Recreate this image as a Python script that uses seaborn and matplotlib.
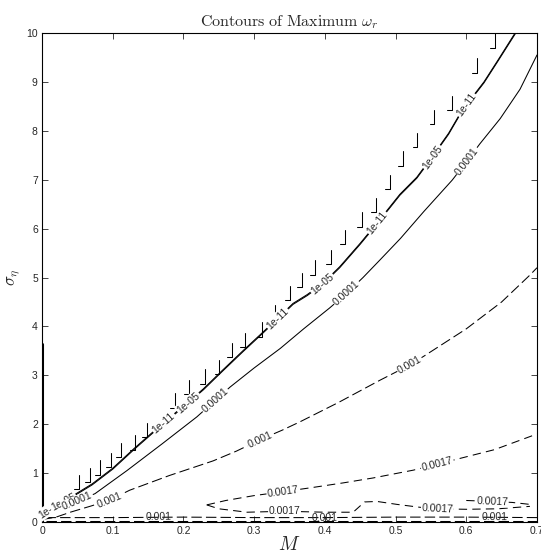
import numpy as np
import pandas as pd
import matplotlib
matplotlib.use("Agg")
import matplotlib.pyplot as plt
import seaborn as sns

# ---------------- data ----------------
# 1e-11 contour (smooth branch)
m_1e11 = [0.0, 0.02, 0.045, 0.071, 0.1, 0.13, 0.163, 0.19, 0.228, 0.255, 0.284, 0.31, 0.332,
          0.355, 0.375, 0.397, 0.421, 0.45, 0.474, 0.506, 0.53, 0.552, 0.575, 0.594, 0.625, 0.645, 0.669]
s_1e11 = [0.15, 0.35, 0.55, 0.78, 1.1, 1.5, 1.92, 2.25, 2.72, 3.1, 3.5, 3.85, 4.15,
          4.47, 4.65, 4.88, 5.22, 5.7, 6.12, 6.7, 7.05, 7.48, 7.95, 8.42, 9.0, 9.45, 10.0]
# 1e-11 contour (jagged staircase branch): hook centres
stair_m = [0.052, 0.068, 0.082, 0.097, 0.112, 0.132, 0.149, 0.188, 0.208, 0.231, 0.251, 0.269,
           0.287, 0.311, 0.33, 0.35, 0.368, 0.386, 0.408, 0.429, 0.453, 0.472, 0.492, 0.511,
           0.531, 0.555, 0.58, 0.615, 0.641]
stair_s = [0.82, 0.96, 1.12, 1.27, 1.47, 1.62, 1.88, 2.49, 2.76, 2.97, 3.17, 3.52,
           3.72, 3.93, 4.29, 4.68, 4.95, 5.21, 5.42, 5.83, 6.18, 6.48, 6.95, 7.44,
           7.81, 8.28, 8.57, 9.33, 9.84]
# 1e-05 contour
m_1e05 = [0.0, 0.02, 0.045, 0.071, 0.1, 0.13, 0.163, 0.19, 0.228, 0.255, 0.284, 0.31, 0.332,
          0.355, 0.375, 0.397, 0.421, 0.45, 0.474, 0.506, 0.53, 0.552, 0.575, 0.594, 0.625, 0.645, 0.67]
s_1e05 = [0.14, 0.34, 0.53, 0.76, 1.08, 1.48, 1.9, 2.23, 2.7, 3.08, 3.48, 3.83, 4.13,
          4.45, 4.63, 4.86, 5.2, 5.68, 6.1, 6.68, 7.03, 7.46, 7.93, 8.4, 8.98, 9.43, 10.0]
# 0.0001 contour
m_1e04 = [0.0, 0.03, 0.075, 0.12, 0.17, 0.219, 0.266, 0.3, 0.337, 0.37, 0.407, 0.431, 0.454,
          0.478, 0.507, 0.54, 0.58, 0.601, 0.619, 0.648, 0.676, 0.7]
s_1e04 = [0.1, 0.3, 0.58, 1.05, 1.6, 2.15, 2.76, 3.15, 3.55, 3.95, 4.38, 4.68, 5.0,
          5.36, 5.8, 6.35, 6.99, 7.38, 7.73, 8.25, 8.85, 9.55]
# 0.001 contour
m_1e03 = [0.0, 0.02, 0.04, 0.07, 0.096, 0.124, 0.18, 0.242, 0.275, 0.308, 0.34, 0.365,
          0.42, 0.478, 0.52, 0.541, 0.6, 0.65, 0.69, 0.7]
s_1e03 = [0.05, 0.1, 0.2, 0.33, 0.45, 0.65, 0.95, 1.25, 1.45, 1.68, 1.88, 2.05,
          2.45, 2.9, 3.21, 3.4, 3.95, 4.5, 5.05, 5.2]
# 0.001 contour along the bottom
m_1e03_low = [0.005, 0.1, 0.2, 0.3, 0.4, 0.5, 0.6, 0.7]
s_1e03_low = [0.09, 0.09, 0.1, 0.09, 0.09, 0.1, 0.1, 0.09]
m_1e03_low2 = [0.005, 0.1, 0.2, 0.3, 0.4, 0.5, 0.6, 0.7]
s_1e03_low2 = [0.03, 0.03, 0.03, 0.03, 0.03, 0.03, 0.03, 0.03]
# 0.0017 contour: upper branch
m_17_up = [0.233, 0.26, 0.3, 0.341, 0.38, 0.426, 0.468, 0.525, 0.559, 0.591, 0.64, 0.7]
s_17_up = [0.35, 0.44, 0.54, 0.62, 0.7, 0.8, 0.9, 1.06, 1.18, 1.3, 1.48, 1.8]
# 0.0017 contour: lower branch
m_17_lo = [0.233, 0.25, 0.29, 0.343, 0.4, 0.44, 0.45, 0.456, 0.474, 0.502, 0.535, 0.559,
           0.6, 0.645, 0.69]
s_17_lo = [0.35, 0.27, 0.2, 0.22, 0.2, 0.2, 0.33, 0.41, 0.42, 0.36, 0.3, 0.27,
           0.26, 0.27, 0.32]
# 0.0017 contour: small piece near right edge
m_17_r = [0.6, 0.637, 0.665, 0.69]
s_17_r = [0.44, 0.42, 0.4, 0.36]
# contour running along the left boundary
m_edge = [0.0, 0.0]
s_edge = [0.0, 3.65]

x_ticks = [0, 0.1, 0.2, 0.3, 0.4, 0.5, 0.6, 0.7]
x_ticklabels = ["0", "0.1", "0.2", "0.3", "0.4", "0.5", "0.6", "0.7"]
y_ticks = list(range(0, 11))
y_ticklabels = [str(v) for v in y_ticks]

# label positions (M values along each curve)
lab_1e11 = [0.012, 0.172, 0.333, 0.474, 0.6]
lab_1e05 = [0.03, 0.207, 0.397, 0.552]
lab_1e04 = [0.05, 0.245, 0.431, 0.601]
lab_1e03 = [0.096, 0.308, 0.52]
lab_1e03_low = [0.165, 0.4, 0.64]
lab_17_up = [0.341, 0.559]
lab_17_lo = [0.343, 0.559]
lab_17_r = [0.637]

# ---------------- style ----------------
sns.set_style("ticks")
plt.rcParams.update({
    "xtick.direction": "in", "ytick.direction": "in",
    "xtick.top": True, "ytick.right": True,
    "xtick.major.size": 4, "ytick.major.size": 4,
    "xtick.major.width": 0.6, "ytick.major.width": 0.6,
    "axes.linewidth": 0.8, "axes.edgecolor": "black",
    "mathtext.fontset": "cm",
})
plt.rcParams["font.family"] = ["Liberation Sans", "DejaVu Sans"]

fig = plt.figure(figsize=(5.41, 5.55), dpi=100)
ax = fig.add_axes([42 / 541, 33 / 555, 495 / 541, 489 / 555])
ax.set_xlim(0, 0.7)
ax.set_ylim(0, 10)

LW = 0.75
solid = "-"
dash1 = (0, (10, 4))
dash2 = (0, (8, 5))


def draw(m, s, ls):
    sns.lineplot(x=m, y=s, sort=False, estimator=None, color="black",
                 linewidth=LW, linestyle=ls, ax=ax, legend=False)


draw(m_1e11, s_1e11, solid)
draw(m_1e05, s_1e05, solid)
draw(m_1e04, s_1e04, solid)
draw(m_1e03, s_1e03, dash1)
draw(m_1e03_low, s_1e03_low, dash1)
draw(m_1e03_low2, s_1e03_low2, dash1)
draw(m_17_up, s_17_up, dash2)
draw(m_17_lo, s_17_lo, dash2)
draw(m_17_r, s_17_r, dash2)
sns.lineplot(x=m_edge, y=s_edge, sort=False, estimator=None, color="black",
             linewidth=2.2, ax=ax, legend=False)

# staircase hooks of the 1e-11 level
foot, half = 0.007, 0.15
rows = []
for i, (mm, ss) in enumerate(zip(stair_m, stair_s)):
    rows += [(i, 0, mm - foot, ss - half), (i, 1, mm, ss - half), (i, 2, mm, ss + half)]
hooks = pd.DataFrame(rows, columns=["hook", "k", "M", "s"])
sns.lineplot(data=hooks, x="M", y="s", units="hook", estimator=None, sort=False,
             color="black", linewidth=LW, ax=ax, legend=False)

# inline contour labels
fig.canvas.draw()


def clabel(m_arr, s_arr, positions, text, pad=0.7, boxed=True):
    for mp in positions:
        sp = np.interp(mp, m_arr, s_arr)
        d = 0.01
        p1 = ax.transData.transform((mp - d, np.interp(mp - d, m_arr, s_arr)))
        p2 = ax.transData.transform((mp + d, np.interp(mp + d, m_arr, s_arr)))
        ang = np.degrees(np.arctan2(p2[1] - p1[1], p2[0] - p1[0]))
        kw = dict(bbox=dict(fc="white", ec="none", pad=pad)) if boxed else {}
        ax.text(mp, sp, text, rotation=ang, rotation_mode="anchor", ha="center",
                va="center", fontsize=7.5, zorder=5, **kw)


clabel(m_1e11, s_1e11, lab_1e11, "1e-11")
clabel(m_1e05, s_1e05, lab_1e05, "1e-05")
clabel(m_1e04, s_1e04, lab_1e04, "0.0001")
clabel(m_1e03, s_1e03, lab_1e03, "0.001")
clabel(m_1e03_low, s_1e03_low, lab_1e03_low, "0.001", boxed=False)
clabel(m_17_up, s_17_up, lab_17_up, "0.0017")
clabel(m_17_lo, s_17_lo, lab_17_lo, "0.0017", pad=0.4)
clabel(m_17_r, s_17_r, lab_17_r, "0.0017", pad=0.3)

ax.set_xticks(x_ticks)
ax.set_xticklabels(x_ticklabels, fontsize=7.5)
ax.set_yticks(y_ticks)
ax.set_yticklabels(y_ticklabels, fontsize=7.5)
ax.tick_params(pad=3)

ax.set_title(r"$\mathrm{Contours\ of\ Maximum}\ \omega_r$", fontsize=11.5, pad=5)
ax.set_xlabel(r"$M$", fontsize=14, labelpad=0)
ax.set_ylabel(r"$\sigma_\eta$", fontsize=12, labelpad=3)

fig.savefig("out.png", dpi=100)
